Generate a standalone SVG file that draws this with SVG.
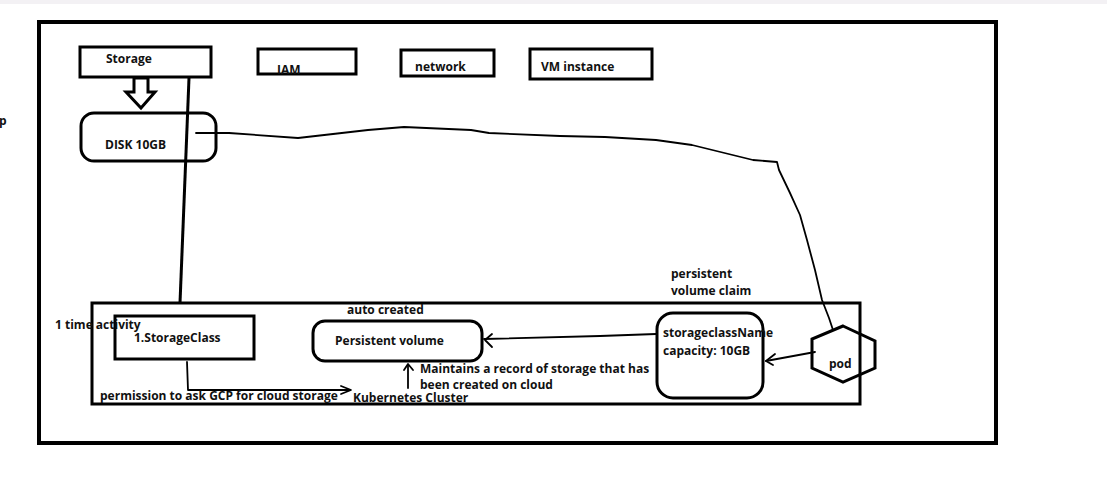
<svg xmlns="http://www.w3.org/2000/svg" width="1107" height="484" viewBox="0 0 1107 484">
<style>
.box{fill:none;stroke:#000;stroke-width:3}
.thin{fill:none;stroke:#000;stroke-width:1.8;stroke-linejoin:round;stroke-linecap:round}
.t{font-family:"Open Sans","Noto Sans",sans-serif;font-weight:700;font-size:12px;fill:#111}
</style>
<rect x="0" y="0" width="1107" height="484" fill="#fff"/>
<rect x="0" y="0" width="1107" height="4" fill="#f3f1f4"/>
<text class="t" x="-1" y="125">p</text>
<rect x="39" y="22" width="957" height="421" fill="none" stroke="#000" stroke-width="4"/>

<g id="connectors">
  <path class="thin" d="M196,133 L229,133 L298,138 L368,130 L404,127 L471,130 L489,133 L560,136 L605,137 L656,140 L692,145 L753,160 L777,162 L779,170 L790,193 L800,215 L807,240 L815,270 L822,300 L829,318 L833,330"/>
  <path d="M189,78 L180,303" fill="none" stroke="#000" stroke-width="3"/>
  <polygon points="134,78 148,78 148,92 155,92 141,108 126,92 134,92" fill="#fff" stroke="#000" stroke-width="3" stroke-linejoin="miter"/>
  <path class="thin" d="M656,334 L600,336 L484,339"/>
  <path class="thin" d="M492,334 L485,340 L492,347"/>
  <path class="thin" d="M815,352 L766,361"/>
  <path class="thin" d="M775,354 L766,361 L773,365"/>
  <path class="thin" d="M408,388 L408,365"/>
  <path class="thin" d="M404,370 L408,364 L413,370"/>
  <path class="thin" d="M187,362 L188,390 L350,390"/>
  <path class="thin" d="M341,386 L351,390 L341,394"/>
</g>

<g id="storage"><rect class="box" x="80" y="47" width="131" height="30"/><text class="t" x="106" y="63">Storage</text></g>
<g id="iam"><rect class="box" x="258" y="49" width="98" height="25"/><text class="t" x="277" y="74">IAM</text></g>
<g id="network"><rect class="box" x="401" y="50" width="93" height="26"/><text class="t" x="415" y="71">network</text></g>
<g id="vm"><rect class="box" x="530" y="49" width="122" height="30"/><text class="t" x="541" y="71">VM instance</text></g>
<g id="disk"><rect class="box" x="81" y="113" width="135" height="48" rx="13"/><text class="t" x="105" y="149">DISK 10GB</text></g>

<g id="cluster"><rect class="box" x="92" y="303" width="768" height="101"/><text class="t" x="353" y="402">Kubernetes Cluster</text></g>
<g id="storageclass"><rect class="box" x="115" y="316" width="139" height="43"/><text class="t" x="134" y="342">1.StorageClass</text></g>
<text class="t" x="55" y="329">1 time activity</text>
<text class="t" x="100" y="400">permission to ask GCP for cloud storage</text>
<g id="pv"><rect class="box" x="313" y="321" width="169" height="40" rx="12"/><text class="t" x="335" y="345">Persistent volume</text></g>
<text class="t" x="347" y="314">auto created</text>
<text class="t" x="420" y="373">Maintains a record of storage that has</text>
<text class="t" x="420" y="389">been created on cloud</text>
<g id="pvc"><rect class="box" x="657" y="313" width="106" height="85" rx="16"/><text class="t" x="663" y="337">storageclassName</text><text class="t" x="663" y="355">capacity: 10GB</text></g>
<text class="t" x="671" y="278">persistent</text>
<text class="t" x="671" y="295">volume claim</text>
<g id="pod"><polygon class="box" points="843,326 875,341 875,368 843,382 812,368 812,339"/><text class="t" x="829" y="368">pod</text></g>
</svg>
